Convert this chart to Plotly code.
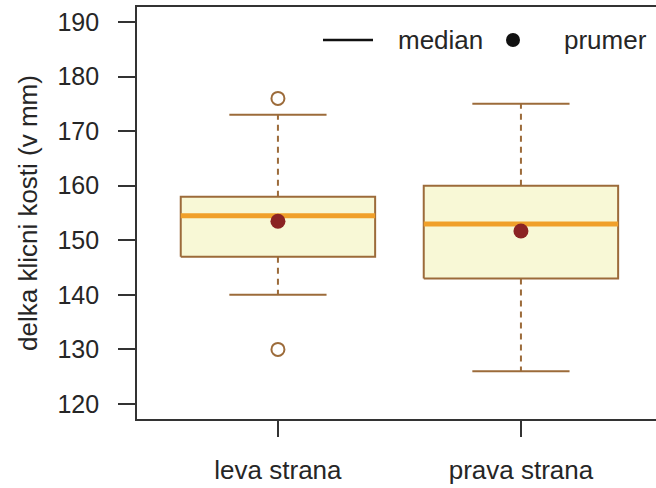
import plotly.graph_objects as go

categories = ["leva strana", "prava strana"]
positions = [1, 2]
q1 = [147, 143]
median = [154.5, 153]
q3 = [158, 160]
whisker_low = [140, 126]
whisker_high = [173, 175]
mean = [153.5, 151.7]
outlier_x = [1, 1]
outlier_y = [176, 130]
y_ticks = [120, 130, 140, 150, 160, 170, 180, 190]

box_w = 0.8
cap_w = 0.4
border_col = "#9C6B3A"
fill_col = "#F8F8D6"
median_col = "#F0A02A"
mean_col = "#8B2323"
axis_col = "#333333"
font_col = "#262626"
FONT = "Liberation Sans, Arial, sans-serif"

fig = go.Figure()

for i, x in enumerate(positions):
    xl, xr = x - box_w / 2, x + box_w / 2
    # box
    fig.add_trace(go.Scatter(
        x=[xl, xr, xr, xl, xl], y=[q1[i], q1[i], q3[i], q3[i], q1[i]],
        mode="lines", fill="toself", fillcolor=fill_col,
        line=dict(color=border_col, width=2), hoverinfo="skip", showlegend=False))
    # whiskers (dashed)
    fig.add_trace(go.Scatter(
        x=[x, x], y=[q3[i], whisker_high[i]], mode="lines",
        line=dict(color=border_col, width=2, dash="6px,5px"), showlegend=False, hoverinfo="skip"))
    fig.add_trace(go.Scatter(
        x=[x, x], y=[q1[i], whisker_low[i]], mode="lines",
        line=dict(color=border_col, width=2, dash="6px,5px"), showlegend=False, hoverinfo="skip"))
    # caps
    for wv in (whisker_low[i], whisker_high[i]):
        fig.add_trace(go.Scatter(
            x=[x - cap_w / 2, x + cap_w / 2], y=[wv, wv], mode="lines",
            line=dict(color=border_col, width=2), showlegend=False, hoverinfo="skip"))
    # median
    fig.add_trace(go.Scatter(
        x=[xl, xr], y=[median[i], median[i]], mode="lines",
        line=dict(color=median_col, width=5), showlegend=False, hoverinfo="skip"))

# outliers
fig.add_trace(go.Scatter(
    x=outlier_x, y=outlier_y, mode="markers",
    marker=dict(symbol="circle-open", size=13, color=border_col, line=dict(width=2)),
    showlegend=False, hoverinfo="skip"))
# means
fig.add_trace(go.Scatter(
    x=positions, y=mean, mode="markers",
    marker=dict(symbol="circle", size=15, color=mean_col),
    showlegend=False, hoverinfo="skip"))

W, H = 656, 488
L, T, B = 137, 7, 69
pw = W - L
ph = H - T - B
px_per_unit = 243.0
x0 = 0.42
x1 = x0 + pw / px_per_unit

def px(xp):
    return (xp - L) / pw

def py(yp):
    return (H - B - yp) / ph

# legend (no box)
fig.add_shape(type="line", xref="paper", yref="paper",
              x0=px(323), x1=px(373), y0=py(40), y1=py(40),
              line=dict(color="#111111", width=2.5))
fig.add_annotation(xref="paper", yref="paper", x=px(396), y=py(40),
                   text="median", showarrow=False, xanchor="left", yanchor="middle",
                   font=dict(size=26, color=font_col, family=FONT))
fig.add_shape(type="circle", xref="paper", yref="paper",
              x0=px(506), x1=px(520), y0=py(33), y1=py(47),
              fillcolor="#111111", line=dict(width=0))
fig.add_annotation(xref="paper", yref="paper", x=px(562), y=py(40),
                   text="prumer", showarrow=False, xanchor="left", yanchor="middle",
                   font=dict(size=26, color=font_col, family=FONT))
# y-axis title
fig.add_annotation(xref="paper", yref="paper", x=px(28), y=0.5,
                   text="delka klicni kosti (v mm)", textangle=-90, showarrow=False,
                   xanchor="center", yanchor="middle",
                   font=dict(size=26, color=font_col, family=FONT))

fig.update_layout(
    width=W, height=H,
    margin=dict(l=L, r=0, t=T, b=B),
    paper_bgcolor="white", plot_bgcolor="white",
    font=dict(family=FONT, size=25, color=font_col),
    showlegend=False,
    xaxis=dict(range=[x0, x1], tickmode="array", tickvals=positions, ticktext=categories,
               showgrid=False, zeroline=False, showline=True, mirror=True,
               linecolor=axis_col, linewidth=1.8, ticks="outside", ticklen=16,
               tickcolor=axis_col, tickwidth=1.8, ticklabelstandoff=11,
               tickfont=dict(size=26, color=font_col, family=FONT)),
    yaxis=dict(range=[117.25, 192.75], tickmode="array", tickvals=y_ticks,
               showgrid=False, zeroline=False, showline=True, mirror=False,
               linecolor=axis_col, linewidth=1.8, ticks="outside", ticklen=17,
               tickcolor=axis_col, tickwidth=1.8, ticklabelstandoff=14,
               tickfont=dict(size=25, color=font_col, family=FONT)),
)

fig.write_html("out.html")
